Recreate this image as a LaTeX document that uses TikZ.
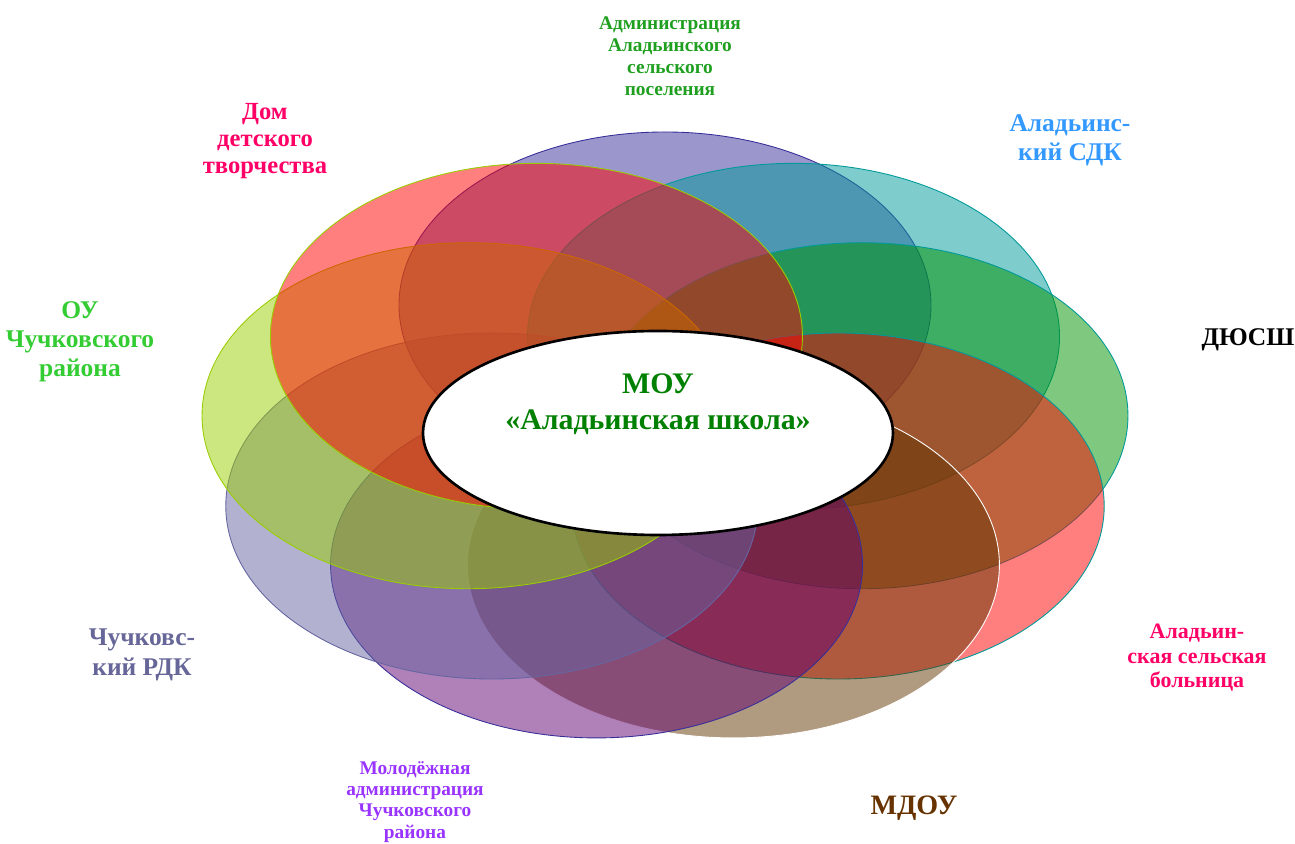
\documentclass[tikz,border=0pt]{standalone}
\usepackage{fontspec}
\setmainfont{Liberation Serif}
\usepackage{tikz}
\usetikzlibrary{positioning}

% petal colours
\definecolor{adm}{RGB}{55,47,153}
\definecolor{sdk}{RGB}{0,153,153}
\definecolor{sport}{RGB}{0,145,0}
\definecolor{hosp}{RGB}{255,0,0}
\definecolor{kinder}{RGB}{97,53,1}
\definecolor{youth}{RGB}{97,1,113}
\definecolor{rdk}{RGB}{101,101,161}
\definecolor{ou}{RGB}{153,205,1}
\definecolor{ddt}{RGB}{255,0,0}
% text colours
\definecolor{txtgreen}{RGB}{31,159,31}
\definecolor{txtpink}{RGB}{255,0,102}
\definecolor{txtblue}{RGB}{51,153,255}
\definecolor{txtlime}{RGB}{51,204,51}
\definecolor{txtbrown}{RGB}{102,51,0}
\definecolor{txtviolet}{RGB}{153,51,255}
\definecolor{txtgrey}{RGB}{102,102,153}
\definecolor{txtschool}{RGB}{0,128,0}

\tikzset{
  petal/.style={fill opacity=0.5, draw opacity=1, line width=0.5pt},
  lbl/.style={font=\bfseries, align=center, inner sep=0pt}
}

\begin{document}
\begin{tikzpicture}[x=0.02cm,y=0.02cm]
        \useasboundingbox (-665,-405) rectangle (630,439);

        % Draw the nine petals round the school
        \foreach \ang/\fc/\lc in {90/adm/adm, 50/sdk/sdk, 10/sport/sdk,
                                  -30/hosp/sdk, -70/kinder/white, -110/youth/adm,
                                  -150/rdk/rdk, 170/ou/ou, 130/ddt/ou}
          \filldraw[petal, fill=\fc, draw=\lc]
            ({200*cos(\ang)},{134*sin(\ang)}) ellipse [x radius=266, y radius=173];

        % Draw the school in the middle
        \filldraw[fill=white, draw=black, line width=1.5pt] (-7,6) ellipse [x radius=235, y radius=102];
        \node[lbl, text=txtschool, font=\bfseries\fontsize{17}{20.5}\selectfont] (school) at (-7,35)
          {МОУ\\«Аладьинская школа»};

        % Label the partners
        \node[lbl, text=txtgreen, font=\bfseries\fontsize{11}{12.5}\selectfont] (admin) at (5,383)
          {Администрация\\Аладьинского\\сельского\\поселения};
        \node[lbl, text=txtblue, font=\bfseries\fontsize{14.5}{16.4}\selectfont] (sdk) at (405,299)
          {Аладьинс-\\кий СДК};
        \node[lbl, text=black, font=\bfseries\fontsize{14.5}{16.4}\selectfont] (sport) at (583,99)
          {ДЮСШ};
        \node[lbl, text=txtpink, font=\bfseries\fontsize{12.5}{13.9}\selectfont] (hosp) at (532,-219)
          {Аладьин-\\ская сельская\\больница};
        \node[lbl, text=txtbrown, font=\bfseries\fontsize{16}{18}\selectfont] (kinder) at (249,-369)
          {МДОУ};
        \node[lbl, text=txtviolet, font=\bfseries\fontsize{11}{12}\selectfont] (youth) at (-250,-363)
          {Молодёжная\\администрация\\Чучковского\\района};
        \node[lbl, text=txtgrey, font=\bfseries\fontsize{14.5}{16.8}\selectfont] (rdk) at (-523,-216)
          {Чучковс-\\кий РДК};
        \node[lbl, text=txtlime, font=\bfseries\fontsize{14.5}{16.4}\selectfont] (ou) at (-585,97)
          {ОУ\\Чучковского\\района};
        \node[lbl, text=txtpink, font=\bfseries\fontsize{14}{15.6}\selectfont] (ddt) at (-400,298)
          {Дом\\детского\\творчества};
    \end{tikzpicture}
\end{document}
